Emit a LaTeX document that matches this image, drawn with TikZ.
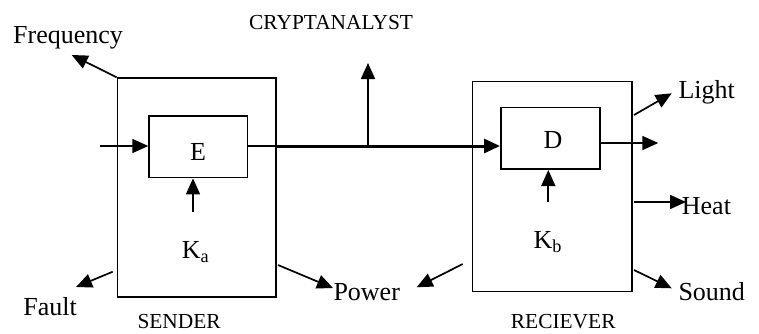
\documentclass[tikz,border=0pt]{standalone}
\usepackage{fontspec}
\setmainfont{Liberation Serif}
\usetikzlibrary{arrows.meta}
\begin{document}
\begin{tikzpicture}[x=1bp,y=-1bp,
  box/.style={draw, line width=1.7bp, inner sep=0pt, anchor=north west},
  arr/.style={-{Triangle[length=16bp,width=14bp]}, line width=1.7bp},
  lab/.style={font=\fontsize{26bp}{30bp}\selectfont, inner sep=0pt, anchor=base west},
  smalllab/.style={font=\fontsize{21.4bp}{24bp}\selectfont, inner sep=0pt, anchor=base west}]
\useasboundingbox (0,0) rectangle (759,333);

% boxes
\node[box, minimum width=158.3bp, minimum height=218.7bp] (sender) at (116.7,77.3) {};
\node[box, minimum width=98.4bp, minimum height=61.7bp] (ebox) at (148.3,115) {};
\node[box, minimum width=159.3bp, minimum height=210bp] (recv) at (471.7,80.7) {};
\node[box, minimum width=99bp, minimum height=61.6bp] (dbox) at (500,106.7) {};

% labels
\node[lab, anchor=base] (elab) at (198,160) {E};
\node[lab, anchor=base] (dlab) at (553,148.3) {D};
\node[lab] (ka) at (181.7,258.3) {K\textsubscript{a}};
\node[lab] (kb) at (533.3,248.3) {K\textsubscript{b}};
\node[lab] (freq) at (13,43) {Frequency};
\node[lab] (fault) at (23.3,315) {Fault};
\node[lab] (power) at (333.3,300) {Power};
\node[lab] (light) at (678.3,98.3) {Light};
\node[lab] (heat) at (681.7,214) {Heat};
\node[lab] (sound) at (678.3,300) {Sound};
\node[smalllab] (crypt) at (249,29.3) {CRYPTANALYST};
\node[smalllab] (sendlab) at (137.3,328.3) {SENDER};
\node[smalllab] (recvlab) at (510.7,328.3) {RECIEVER};

% coordinates for free ends
\coordinate (inS) at (100,146);
\coordinate (kaS) at (193,212);
\coordinate (freqT) at (71.7,55);
\coordinate (faultS) at (112.7,271.7);
\coordinate (faultT) at (76,287);
\coordinate (powS) at (278,265);
\coordinate (powT) at (333,288);
\coordinate (ch1) at (275,146);
\coordinate (cryS) at (368,146);
\coordinate (cryT) at (368,63);
\coordinate (dOut) at (658.3,143);
\coordinate (kbS) at (548.3,201.7);
\coordinate (lightS) at (634,115);
\coordinate (lightT) at (671.7,93.3);
\coordinate (heatS) at (634,202);
\coordinate (heatT) at (686,202);
\coordinate (soundS) at (634,270);
\coordinate (soundT) at (671.7,288.3);
\coordinate (pow2S) at (462.7,264);
\coordinate (pow2T) at (416.7,287.3);

% connectors
\draw[arr] (inS) -- (inS -| ebox.west);
\draw[arr] (kaS) -- (kaS |- ebox.south);
\draw[arr] (sender.north west) -- (freqT);
\draw[arr] (faultS) -- (faultT);
\draw[arr] (powS) -- (powT);
\draw[line width=1.7bp] (ch1 -| ebox.east) -- (ch1);
\draw[arr, line width=3bp] (ch1) -- (ch1 -| dbox.west);
\draw[arr] (cryS) -- (cryT);
\draw[arr] (dOut -| dbox.east) -- (dOut);
\draw[arr] (kbS) -- (kbS |- dbox.south);
\draw[arr] (lightS) -- (lightT);
\draw[arr] (heatS) -- (heatT);
\draw[arr] (soundS) -- (soundT);
\draw[arr] (pow2S) -- (pow2T);
\end{tikzpicture}
\end{document}
